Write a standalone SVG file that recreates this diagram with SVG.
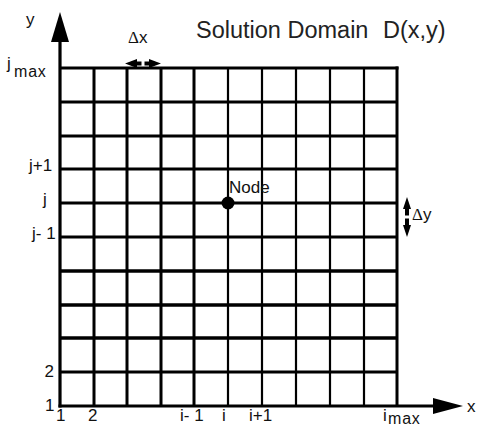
<svg xmlns="http://www.w3.org/2000/svg" width="480" height="425" viewBox="0 0 480 425">
  <style>
    .grid-bold { stroke: #000; stroke-width: 3; fill: none; }
    .grid-thin { stroke: #000; stroke-width: 2.2; fill: none; }
    .lbl { font-family: "Liberation Sans", Arial, sans-serif; font-size: 17px; fill: #111; }
    .sub { font-family: "Liberation Sans", Arial, sans-serif; font-size: 16px; fill: #111; }
    .title { font-family: "Liberation Sans", Arial, sans-serif; font-size: 23.5px; fill: #222; }
    .delta { font-family: "Liberation Sans", Arial, sans-serif; font-size: 17px; fill: #111; }
    .greek { font-family: "Liberation Serif", "Times New Roman", serif; }
  </style>
  <rect width="480" height="425" fill="#fff"/>

  <!-- mesh lines of the solution domain -->
  <g id="grid">
    <g class="grid-bold">
      <line x1="94" y1="68" x2="94" y2="406"/>
      <line x1="127" y1="68" x2="127" y2="406"/>
      <line x1="161" y1="68" x2="161" y2="406"/>
      <line x1="194" y1="68" x2="194" y2="406"/>
      <line x1="397" y1="66.5" x2="397" y2="406"/>
      <line x1="60" y1="68" x2="398.5" y2="68"/>
      <line x1="60" y1="102" x2="397" y2="102"/>
      <line x1="60" y1="136" x2="397" y2="136"/>
      <line x1="60" y1="169" x2="397" y2="169"/>
      <line x1="60" y1="203" x2="397" y2="203"/>
      <line x1="60" y1="237" x2="397" y2="237"/>
      <line x1="60" y1="271" x2="397" y2="271" stroke-width="3.6"/>
      <line x1="60" y1="305" x2="397" y2="305" stroke-width="3.4"/>
      <line x1="60" y1="338" x2="397" y2="338" stroke-width="3.4"/>
      <line x1="60" y1="372" x2="397" y2="372"/>
    </g>
    <g class="grid-thin">
      <line x1="228" y1="68" x2="228" y2="406"/>
      <line x1="262" y1="68" x2="262" y2="406"/>
      <line x1="296" y1="68" x2="296" y2="406"/>
      <line x1="330" y1="68" x2="330" y2="406"/>
      <line x1="364" y1="68" x2="364" y2="406"/>
    </g>
  </g>

  <!-- coordinate axes -->
  <g id="axes">
    <line x1="60" y1="407.5" x2="60" y2="40" stroke="#000" stroke-width="3.2"/>
    <polygon points="60,12 51,42 69,42" fill="#000"/>
    <line x1="58.5" y1="406" x2="435" y2="406" stroke="#000" stroke-width="3.2"/>
    <polygon points="433,398 463,406 433,414" fill="#000"/>
    <text class="lbl" x="26" y="25">y</text>
    <text class="lbl" x="467" y="412">x</text>
  </g>

  <!-- spacing indicators -->
  <g id="dx">
    <polygon points="125,63.5 137,59 137,61.5 141.5,61.5 141.5,65.5 137,65.5 137,68" fill="#000"/>
    <polygon points="161,63.5 149,59 149,61.5 144.5,61.5 144.5,65.5 149,65.5 149,68" fill="#000"/>
    <text class="delta" x="128" y="43"><tspan class="greek">Δ</tspan>x</text>
  </g>
  <g id="dy">
    <polygon points="407,197 403,209 405,209 405,215.5 409,215.5 409,209 411,209" fill="#000"/>
    <polygon points="407,237 403,225 405,225 405,218.5 409,218.5 409,225 411,225" fill="#000"/>
    <text class="delta" x="412" y="220"><tspan class="greek">Δ</tspan>y</text>
  </g>

  <!-- grid node (i, j) -->
  <g id="node">
    <circle cx="228" cy="203" r="6.5" fill="#000"/>
    <text class="lbl" x="229" y="193" font-size="18">Node</text>
  </g>

  <!-- row indices -->
  <g id="row-labels">
    <text class="lbl" x="7" y="69">j</text>
    <text class="sub" x="14" y="76.5" letter-spacing="0.8">max</text>
    <text class="lbl" x="29" y="170.5">j+1</text>
    <text class="lbl" x="43" y="204.5">j</text>
    <text class="lbl" x="32" y="238.5">j- 1</text>
    <text class="lbl" x="44.5" y="377">2</text>
    <text class="lbl" x="45" y="410.5">1</text>
  </g>

  <!-- column indices -->
  <g id="col-labels">
    <text class="lbl" x="56" y="421">1</text>
    <text class="lbl" x="88" y="421">2</text>
    <text class="lbl" x="180" y="421">i- 1</text>
    <text class="lbl" x="222" y="421">i</text>
    <text class="lbl" x="249" y="421">i+1</text>
    <text class="lbl" x="383" y="421">i</text>
    <text class="sub" x="388" y="423.5" letter-spacing="0.8">max</text>
  </g>

  <g id="title" class="title">
    <text x="196" y="38">Solution Domain</text>
    <text x="383" y="38">D(x,y)</text>
  </g>
</svg>
